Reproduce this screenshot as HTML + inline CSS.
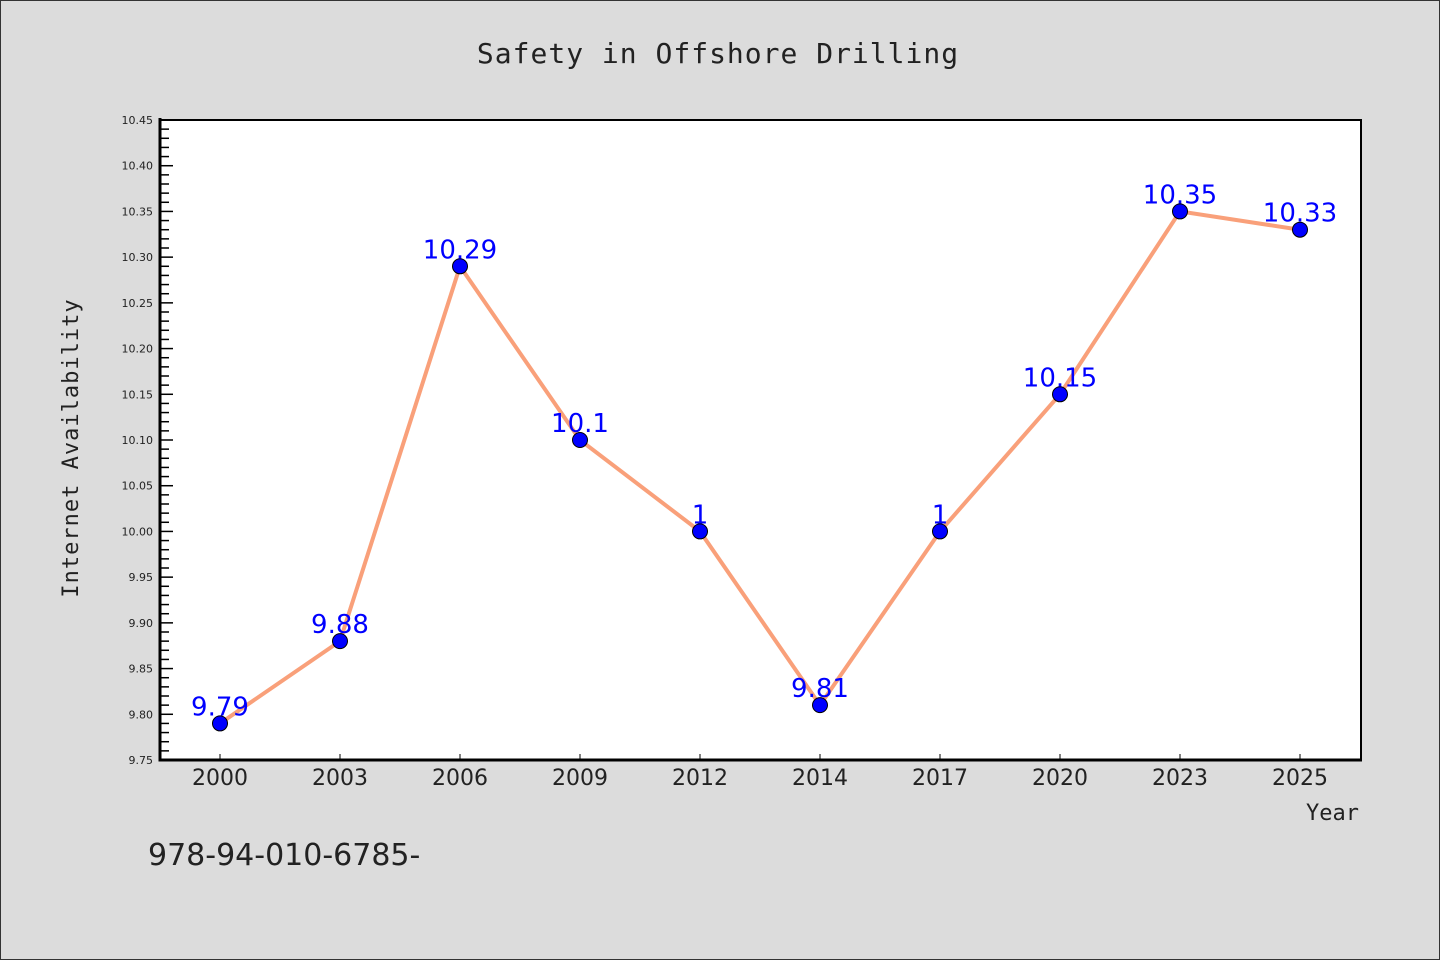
<!DOCTYPE html>
<html><head><meta charset="utf-8"><style>
body{margin:0;background:#dcdcdc}
svg{display:block}
text{font-family:"DejaVu Sans","Liberation Sans",sans-serif}
.mono{font-family:"DejaVu Sans Mono","Liberation Mono",monospace}
</style></head><body>
<svg id="chart" width="1440" height="960" xmlns="http://www.w3.org/2000/svg">
<rect x="0.5" y="0.5" width="1439" height="959" fill="#dcdcdc" stroke="#333"/>
<text class="mono" x="718" y="63" font-size="28" text-anchor="middle" fill="#222" letter-spacing="1">Safety in Offshore Drilling</text>
<rect x="160" y="120" width="1200" height="640" fill="#fff"/>
<g id="yticks"></g><g id="xticks"></g>
<path d="M160,120H1361V761" fill="none" stroke="#000" stroke-width="2"/>
<path d="M160,118V760H1362" fill="none" stroke="#000" stroke-width="3"/>
<g id="series"></g>
<text class="mono" x="78" y="448" font-size="22" text-anchor="middle" fill="#222" letter-spacing="1" transform="rotate(-90 78 448)">Internet Availability</text>
<text class="mono" x="1359" y="820" font-size="22" text-anchor="end" fill="#222">Year</text>
<text x="148" y="865" font-size="30" fill="#222">978-94-010-6785-</text>
</svg>
<script>
const categories=["2000","2003","2006","2009","2012","2014","2017","2020","2023","2025"];
const values=[9.79,9.88,10.29,10.1,10.0,9.81,10.0,10.15,10.35,10.33];
const valueLabels=["9.79","9.88","10.29","10.1","1","9.81","1","10.15","10.35","10.33"];
const yTicks=[9.75,9.80,9.85,9.90,9.95,10.00,10.05,10.10,10.15,10.20,10.25,10.30,10.35,10.40,10.45];
const yMin=9.75,yMax=10.45,L=160,R=1360,T=120,B=760;
const NS="http://www.w3.org/2000/svg";
function y(v){return B-(v-yMin)/(yMax-yMin)*(B-T);}
function x(i){return L+(i+0.5)*(R-L)/categories.length;}
function mk(t,a,p){const e=document.createElementNS(NS,t);for(const k in a)e.setAttribute(k,a[k]);p.appendChild(e);return e;}
const yt=document.getElementById('yticks'),xt=document.getElementById('xticks'),sg=document.getElementById('series');
for(let k=0;k<=70;k++){const v=yMin+k*0.01;const major=k%5===0;
 const l=mk('line',{x1:L,x2:L+(major?13:9),y1:y(v),y2:y(v),stroke:'#000','stroke-width':1.5},yt);
 
 }
yTicks.forEach(v=>{const t=mk('text',{x:153,y:y(v)+4,'font-size':11,'text-anchor':'end',fill:'#222'},yt);t.textContent=v.toFixed(2);
 
 });
categories.forEach((c,i)=>{const l=mk('line',{x1:x(i),x2:x(i),y1:B,y2:B-6,stroke:'#000','stroke-width':1},xt);
 
 
 const t=mk('text',{x:x(i),y:785,'font-size':22,'text-anchor':'middle',fill:'#222'},xt);t.textContent=c;
 
 });
const pl=mk('polyline',{points:values.map((v,i)=>x(i)+','+y(v)).join(' '),fill:'none',stroke:'#f9a07a','stroke-width':4},sg);


values.forEach((v,i)=>{const c=mk('circle',{cx:x(i),cy:y(v),r:7.5,fill:'#0000ff',stroke:'#000','stroke-width':1},sg);
 
 
 const t=mk('text',{x:x(i),y:y(v)-8,'font-size':26,'text-anchor':'middle',fill:'#0000ff'},sg);t.textContent=valueLabels[i];
 
 });
</script>
</body></html>
